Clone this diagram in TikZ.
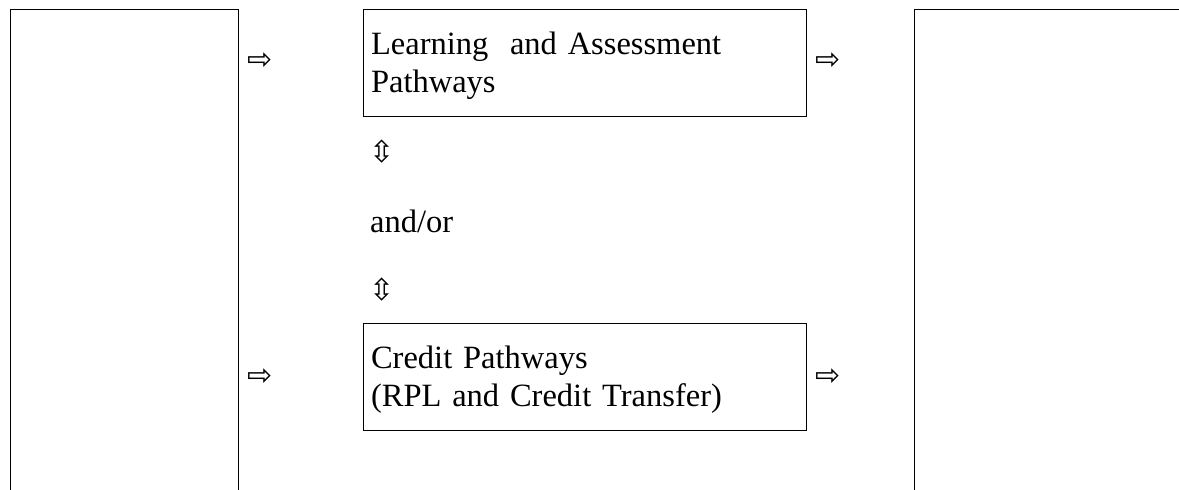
\documentclass[tikz,border=0pt]{standalone}
\usepackage{fontspec}
\setmainfont{Liberation Serif}
\newfontfamily\arrowfont{DejaVu Sans}
\tikzset{
  sidebox/.style={draw, line width=1.1pt, anchor=north west, inner sep=0pt, minimum width=228pt, minimum height=600pt},
  pathbox/.style={draw, line width=1.1pt, anchor=north west, minimum height=107pt, text width=427pt, inner xsep=8pt, align=left, font=\fontsize{32.5}{37.5}\selectfont, execute at begin node={\rule{0pt}{29pt}}},
  glyph/.style={inner sep=0pt, font=\arrowfont\fontsize{30}{30}\selectfont}
}
\begin{document}
\begin{tikzpicture}[x=1pt, y=-1pt]
\useasboundingbox (0,0) rectangle (1179,490);
\clip (0,0) rectangle (1179,490);

\coordinate (A) at (9.5,8.5);
\coordinate (B) at (913.5,8.5);
\coordinate (C) at (362.5,8.5);
\coordinate (D) at (362.5,322.5);

\node [sidebox] (L) at (A) {};
\node [sidebox, minimum width=300pt] (R) at (B) {};

\node [pathbox] (P) at (C) {Learning\ \ and Assessment\\Pathways};
\node [pathbox] (Q) at (D) {Credit Pathways\\(RPL and Credit Transfer)};

\node [glyph] (E) at (260,61) {⇨};
\node [glyph] (F) at (828,61) {⇨};
\node [glyph] (G) at (260,377) {⇨};
\node [glyph] (H) at (828,377) {⇨};

\node [glyph] (U) at (382,152) {⇳};
\node [anchor=base west, inner sep=0pt, font=\fontsize{32.5}{37.5}\selectfont] (O) at (370,232) {and/or};
\node [glyph] (V) at (382,290) {⇳};

\end{tikzpicture}
\end{document}
